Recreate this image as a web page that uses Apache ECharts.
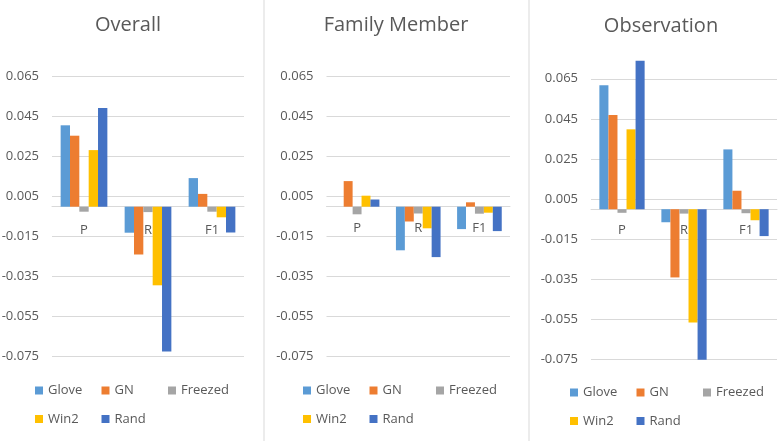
<!DOCTYPE html>
<html>
<head>
<meta charset="utf-8">
<script src="https://cdn.jsdelivr.net/npm/echarts@6/dist/echarts.min.js"></script>
<style>
html,body{margin:0;padding:0;background:#fff;}
#chart{width:778px;height:441px;}
</style>
</head>
<body>
<div id="chart"></div>
<script>
const categories = ['P', 'R', 'F1'];
const seriesNames = ['Glove', 'GN', 'Freezed', 'Win2', 'Rand'];
const panelTitles = ['Overall', 'Family Member', 'Observation'];
const yTickValues = [-0.075, -0.055, -0.035, -0.015, 0.005, 0.025, 0.045, 0.065];

const overallGlove   = [0.0407, -0.0130, 0.0143];
const overallGN      = [0.0355, -0.0239, 0.0064];
const overallFreezed = [-0.0025, -0.0027, -0.0025];
const overallWin2    = [0.0283, -0.0393, -0.0053];
const overallRand    = [0.0493, -0.0724, -0.0129];

const familyGlove    = [0, -0.0218, -0.0112];
const familyGN       = [0.0128, -0.0074, 0.0022];
const familyFreezed  = [-0.0038, -0.0034, -0.0035];
const familyWin2     = [0.0055, -0.0108, -0.0030];
const familyRand     = [0.0036, -0.0252, -0.0122];

const obsGlove       = [0.0618, -0.0065, 0.0298];
const obsGN          = [0.0470, -0.0340, 0.0092];
const obsFreezed     = [-0.0018, -0.0022, -0.0020];
const obsWin2        = [0.0398, -0.0565, -0.0055];
const obsRand        = [0.0740, -0.0750, -0.0134];

const panelData = [
  [overallGlove, overallGN, overallFreezed, overallWin2, overallRand],
  [familyGlove, familyGN, familyFreezed, familyWin2, familyRand],
  [obsGlove, obsGN, obsFreezed, obsWin2, obsRand]
];

const colors = ['#5B9BD5', '#ED7D31', '#A5A5A5', '#FFC000', '#4472C4'];
const FONT = '"Open Sans", "Noto Sans", sans-serif';
const TXT = '#595959';
const GRIDC = '#d9d9d9';

const grids = [
  {left: 52, top: 56.7, width: 192, height: 300, outerBoundsMode: 'none', containLabel: false},
  {left: 326.5, top: 56.7, width: 183.5, height: 300, outerBoundsMode: 'none', containLabel: false},
  {left: 591, top: 58.7, width: 186, height: 301, outerBoundsMode: 'none', containLabel: false}
];
const catLabelMargin = [17, 15, 15];
const titleX = [128, 396, 661];
const titleY = [15, 15, 16];
const legendPos = [
  {left: 35, top: 380},
  {left: 303, top: 380},
  {left: 570, top: 382}
];

const option = {
  backgroundColor: '#fff',
  animation: false,
  color: colors,
  textStyle: {fontFamily: FONT},
  title: panelTitles.map((t, i) => ({
    text: t, left: titleX[i], top: titleY[i], textAlign: 'center', padding: 0,
    textStyle: {fontFamily: FONT, fontSize: 20, fontWeight: 'normal', color: TXT}
  })),
  grid: grids,
  // value range is symmetric (-0.075..0.075), so the zero line sits at half the grid height
  xAxis: grids.map((g, i) => ({
    type: 'category', gridIndex: i, data: categories,
    position: 'bottom', offset: -g.height / 2,
    axisLine: {onZero: false, lineStyle: {color: GRIDC, width: 1}},
    axisTick: {show: false},
    axisLabel: {color: TXT, fontSize: 13, fontFamily: FONT, margin: catLabelMargin[i]}
  })),
  yAxis: grids.map((g, i) => ({
    type: 'value', gridIndex: i, min: -0.075, max: 0.075,
    axisLine: {show: false},
    axisTick: {show: false, customValues: yTickValues},
    axisLabel: {
      color: TXT, fontSize: 13, fontFamily: FONT, margin: 13,
      customValues: yTickValues,
      formatter: v => v.toFixed(3)
    },
    splitLine: {show: true, lineStyle: {color: GRIDC, width: 1}}
  })),
  legend: legendPos.map((p, i) => ({
    left: p.left, top: p.top, width: 205, padding: 0,
    orient: 'horizontal',
    itemWidth: 8, itemHeight: 8, itemGap: 7.5,
    icon: 'rect',
    data: seriesNames,
    textStyle: {color: TXT, fontSize: 13, fontFamily: FONT, width: 46, lineHeight: 21}
  })),
  graphic: [
    {type: 'line', shape: {x1: 264, y1: 0, x2: 264, y2: 441}, style: {stroke: '#d9d9d9', lineWidth: 1}, silent: true},
    {type: 'line', shape: {x1: 529, y1: 0, x2: 529, y2: 441}, style: {stroke: '#d9d9d9', lineWidth: 1}, silent: true}
  ],
  series: []
};

panelData.forEach((arrs, pi) => {
  arrs.forEach((vals, si) => {
    option.series.push({
      type: 'bar', name: seriesNames[si],
      xAxisIndex: pi, yAxisIndex: pi,
      data: vals,
      barGap: '0%', barCategoryGap: '27%',
      itemStyle: {color: colors[si]},
      clip: true
    });
  });
});

const chart = echarts.init(document.getElementById('chart'), null, {renderer: 'canvas'});
chart.setOption(option);
</script>
</body>
</html>
